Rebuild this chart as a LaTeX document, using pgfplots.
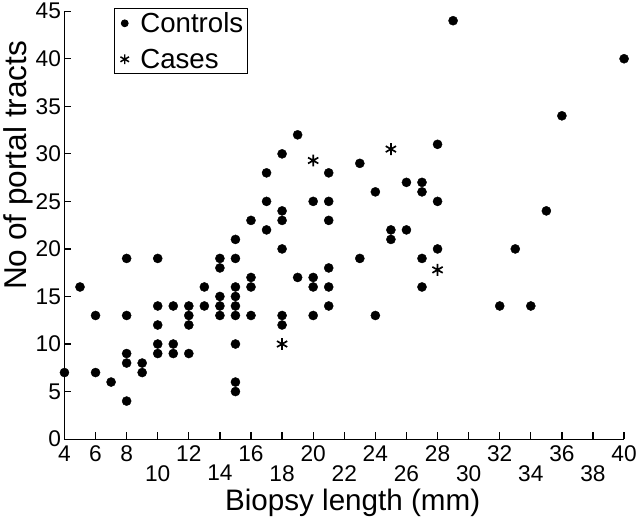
\documentclass[border=0pt]{standalone}
\usepackage{pgfplots}
\pgfplotsset{compat=1.18}
\usepackage{fontspec}
\setmainfont{Liberation Sans}
\newcommand{\lw}[1]{\raisebox{-20bp}[\height][\depth]{#1}}
\begin{document}
\begin{tikzpicture}
\begin{axis}[
  scale only axis, width=565bp, height=432bp,
  xmin=4, xmax=40, ymin=0, ymax=45,
  axis lines*=left,
  axis line style={line width=1.2bp, black},
  tick style={line width=1.2bp, black},
  major tick length=7bp, tick align=inside,
  xtick={4,6,...,40},
  xticklabels={4,6,8,\lw{10},12,\lw{14},16,\lw{18},20,\lw{22},24,\lw{26},28,\lw{30},32,\lw{34},36,\lw{38},40},
  xticklabel style={yshift=-3bp},
  ytick={0,5,...,45},
  tick label style={font=\fontsize{23}{25}\selectfont},
  /pgf/number format/assume math mode=true,
  xlabel={Biopsy length (mm)}, ylabel={No of portal tracts},
  xlabel style={font=\fontsize{30}{32}\selectfont, at={(axis description cs:0.515,-0.149)}, anchor=center},
  ylabel style={font=\fontsize{32}{34}\selectfont, at={(axis description cs:-0.083,0.64)}, anchor=center},
  legend style={at={(axis description cs:0.088,1.007)}, anchor=north west,
    font=\fontsize{28}{30}\selectfont, draw=black, line width=0.8bp,
    inner xsep=2bp, inner ysep=2bp, row sep=11bp},
  legend image code/.code={\path (-8bp,0) (13bp,0); \draw[#1] plot coordinates {(0bp,0bp)};},
  legend cell align=left,
  clip=false,
]
\addplot[only marks, mark=*, mark size=4.6bp, black, legend image post style={mark size=3.5bp}] coordinates {
(4,7)(5,16)(6,13)(6,7)(7,6)
(8,19)(8,13)(8,9)(8,8)(8,4)
(9,8)(9,7)
(10,19)(10,14)(10,12)(10,10)(10,9)
(11,14)(11,10)(11,9)
(12,14)(12,13)(12,12)(12,9)
(13,16)(13,14)
(14,19)(14,18)(14,15)(14,14)(14,13)
(15,21)(15,19)(15,16)(15,15)(15,14)(15,13)(15,10)(15,6)(15,5)
(16,23)(16,17)(16,16)(16,13)
(17,28)(17,25)(17,22)
(18,30)(18,24)(18,23)(18,20)(18,13)(18,12)
(19,32)(19,17)
(20,25)(20,17)(20,16)(20,13)
(21,28)(21,25)(21,23)(21,18)(21,16)(21,14)
(23,29)(23,19)
(24,26)(24,13)
(25,22)(25,21)
(26,27)(26,22)
(27,27)(27,26)(27,19)(27,16)
(28,31)(28,25)(28,20)
(29,44)
(32,14)(33,20)(34,14)(35,24)(36,34)(40,40)
};
\addlegendentry{Controls}
\addplot[only marks, mark=asterisk, mark size=6bp, black, line width=1.7bp, legend image post style={mark size=5bp, line width=1.5bp}] coordinates {
(18,10)(20,29.3)(25,30.5)(28,17.8)
};
\addlegendentry{Cases}
\end{axis}
\end{tikzpicture}
\end{document}
